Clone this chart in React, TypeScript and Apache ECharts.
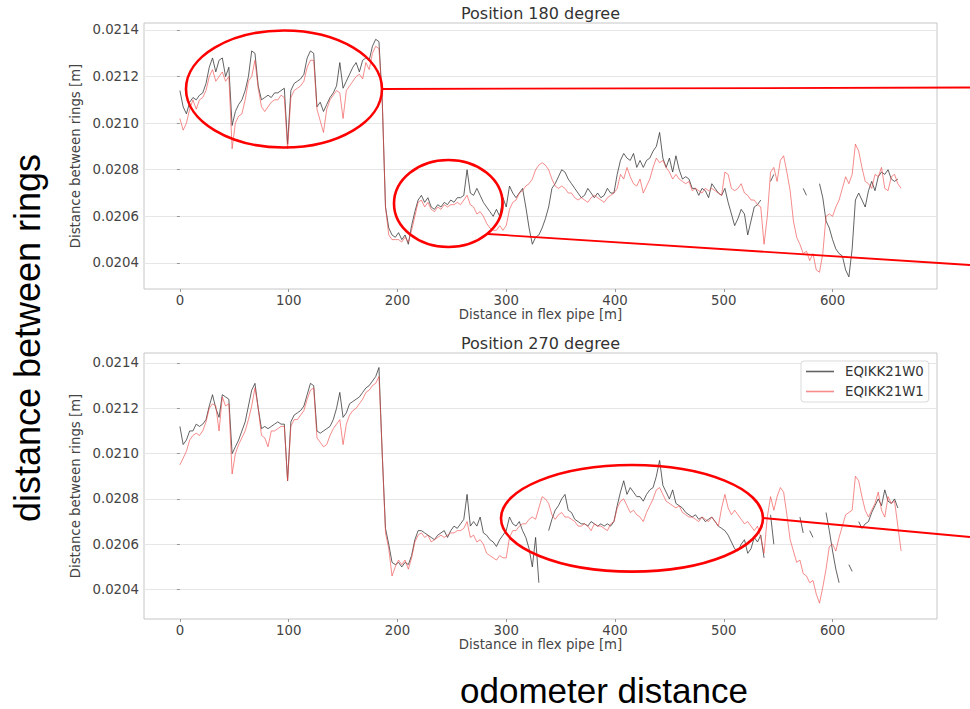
import React, { useEffect, useRef } from "react";
import * as echarts from "echarts";

// Distance along the flex pipe [m] (sampling positions)
const DISTANCES: number[] = [
  0, 3, 6, 9, 12, 15, 18, 21, 24, 27, 30, 33, 36, 39, 42, 45, 48, 51, 54, 57,
  60, 63, 66, 69, 72, 75, 78, 81, 84, 87, 90, 93, 96, 99, 102, 105, 108, 111, 114, 117,
  120, 123, 126, 129, 132, 135, 138, 141, 144, 147, 150, 153, 156, 159, 162, 165, 168, 171, 174, 177,
  180, 183, 186, 189, 192, 195, 198, 201, 204, 207, 210, 213, 216, 219, 222, 225, 228, 231, 234, 237,
  240, 243, 246, 249, 252, 255, 258, 261, 264, 267, 270, 273, 276, 279, 282, 285, 288, 291, 294, 297,
  300, 303, 306, 309, 312, 315, 318, 321, 324, 327, 330, 333, 336, 339, 342, 345, 348, 351, 354, 357,
  360, 363, 366, 369, 372, 375, 378, 381, 384, 387, 390, 393, 396, 399, 402, 405, 408, 411, 414, 417,
  420, 423, 426, 429, 432, 435, 438, 441, 444, 447, 450, 453, 456, 459, 462, 465, 468, 471, 474, 477,
  480, 483, 486, 489, 492, 495, 498, 501, 504, 507, 510, 513, 516, 519, 522, 525, 528, 531, 534, 537,
  540, 543, 546, 549, 552, 555, 558, 561, 564, 567, 570, 573, 576, 579, 582, 585, 588, 591, 594, 597,
  600, 603, 606, 609, 612, 615, 618, 621, 624, 627, 630, 633, 636, 639, 642, 645, 648, 651, 654, 657,
  660, 663,
];

const SERIES_NAMES = ["EQIKK21W0", "EQIKK21W1"];
const PANEL_TITLES = ["Position 180 degree", "Position 270 degree"];
const X_TICKS = [0, 100, 200, 300, 400, 500, 600];
const Y_TICKS = [0.0204, 0.0206, 0.0208, 0.021, 0.0212, 0.0214];

// Position 180 degree
const POS180_W0: (number | null)[] = [
  0.02114, 0.02107, 0.02104, 0.02109, 0.02111, 0.0211, 0.02112, 0.02113, 0.02117, 0.02124,
  0.02128, 0.02122, 0.02127, 0.02128, 0.0212, 0.02124, 0.02099, 0.02105, 0.02108, 0.0211,
  0.02114, 0.0212, 0.02131, 0.0213, 0.02116, 0.0211, 0.02111, 0.02112, 0.02111, 0.02113,
  0.02113, 0.02114, 0.02115, 0.02091, 0.02114, 0.02117, 0.02118, 0.02119, 0.02121, 0.02128,
  0.02131, 0.0213, 0.02107, 0.02109, 0.02105, 0.02108, 0.02111, 0.02113, 0.02116, 0.02126,
  0.02115, 0.02118, 0.02121, 0.02124, 0.02126, 0.02122, 0.02127, 0.02128, 0.02127, 0.02133,
  0.02136, 0.02135, 0.0211, 0.02064, 0.02055, 0.02052, 0.02051, 0.02053, 0.0205, 0.02052,
  0.02048, 0.02056, 0.02062, 0.02067, 0.02069, 0.02066, 0.02068, 0.02064, 0.02063, 0.02065,
  0.02064, 0.02066, 0.02065, 0.02067, 0.02066, 0.02068, 0.02068, 0.02069, 0.0208, 0.0207,
  0.02069, 0.02072, 0.02069, 0.02066, 0.02064, 0.02062, 0.0206, 0.02063, 0.0206, 0.02068,
  0.02064, 0.02073, 0.0207, 0.02068, 0.0207, 0.02072, 0.02064, 0.02055, 0.02048, 0.02051,
  0.02052, 0.02055, 0.02059, 0.02064, 0.02072, 0.02074, 0.02077, 0.0208, 0.02079, 0.02076,
  0.02074, 0.02072, 0.0207, 0.02068, 0.02069, 0.02072, 0.0207, 0.02068, 0.0207, 0.02068,
  0.02069, 0.02072, 0.0207, 0.0207, 0.02078, 0.02084, 0.02087, 0.02085, 0.02084, 0.02087,
  0.02081, 0.02084, 0.02081, 0.02084, 0.02085, 0.02088, 0.0209, 0.02096, 0.02085, 0.02081,
  0.02085, 0.02079, 0.02086, 0.0208, 0.02076, 0.02077, 0.02076, 0.02072, 0.02072, 0.02069,
  0.02072, 0.02071, 0.02068, 0.02074, 0.02072, 0.0207, 0.02069, 0.02072, 0.02066, 0.02061,
  0.02056, 0.02059, 0.02063, 0.02061, 0.02052, 0.02058, 0.02064, 0.02065, 0.02067, null,
  null, 0.02075, 0.02078, null, null, null, null, null, null, null,
  null, 0.02072, 0.02069, null, null, null, 0.02074, 0.02068, 0.02058, 0.02055,
  0.0205, 0.02046, 0.02044, 0.02043, 0.02037, 0.02034, 0.02046, 0.02067, 0.0207, 0.02067,
  0.02064, 0.02071, 0.02075, 0.02071, 0.02077, 0.02079, 0.02078, 0.0208, 0.02076, 0.02075,
  0.02076, null,
];

const POS180_W1: (number | null)[] = [
  0.02102, 0.02097, 0.021, 0.02106, 0.0211, 0.02106, 0.0211, 0.02111, 0.02114, 0.0212,
  0.02123, 0.02118, 0.0212, 0.02122, 0.02118, 0.0212, 0.02089, 0.021, 0.02103, 0.02104,
  0.0211, 0.02118, 0.0212, 0.02127, 0.02115, 0.02107, 0.02105, 0.02107, 0.02109, 0.0211,
  0.0211, 0.02112, 0.02111, 0.02089, 0.02111, 0.02114, 0.02115, 0.02116, 0.02118, 0.02124,
  0.02127, 0.02127, 0.02106, 0.02101, 0.02096, 0.02106, 0.0211, 0.02112, 0.02114, 0.02113,
  0.02102, 0.02114, 0.02116, 0.02118, 0.0212, 0.02121, 0.02119, 0.02126, 0.02123, 0.0213,
  0.02133, 0.02132, 0.0211, 0.02064, 0.02052, 0.0205, 0.0205, 0.0205, 0.02049, 0.02051,
  0.02049, 0.02054, 0.0206, 0.02066, 0.02067, 0.02064, 0.02066, 0.02063, 0.02062, 0.02064,
  0.02063, 0.02065, 0.02064, 0.02065, 0.02065, 0.02066, 0.02065, 0.02067, 0.02069, 0.02065,
  0.02064, 0.02061, 0.02062, 0.0206, 0.02057, 0.02055, 0.02054, 0.02054, 0.02056, 0.02054,
  0.02056, 0.02063, 0.02066, 0.02067, 0.0207, 0.02071, 0.02073, 0.02074, 0.02076, 0.0208,
  0.02082, 0.02083, 0.02082, 0.0208, 0.02076, 0.02073, 0.02072, 0.02073, 0.02072, 0.0207,
  0.0207, 0.02068, 0.02067, 0.02068, 0.02067, 0.02066, 0.02068, 0.02069, 0.02068, 0.02067,
  0.02066, 0.02068, 0.02069, 0.0207, 0.02072, 0.02078, 0.02076, 0.02081, 0.02077, 0.02074,
  0.02073, 0.02076, 0.0207, 0.02073, 0.02076, 0.02081, 0.02085, 0.02083, 0.02084, 0.02081,
  0.02079, 0.02076, 0.02078, 0.02076, 0.02075, 0.02074, 0.02075, 0.02071, 0.02072, 0.02071,
  0.0207, 0.02072, 0.02071, 0.02072, 0.02071, 0.0207, 0.02069, 0.02079, 0.02078, 0.02072,
  0.02071, 0.02072, 0.02074, 0.0207, 0.02069, 0.02067, 0.02067, 0.02065, 0.02064, 0.02048,
  0.0206, 0.02079, 0.02081, 0.02075, 0.02084, 0.02086, 0.02079, 0.02071, 0.02058, 0.02051,
  0.02048, 0.02044, 0.02045, 0.02041, 0.02044, 0.02037, 0.02036, 0.02044, 0.0206, 0.02061,
  0.0206, 0.02064, 0.02067, 0.02072, 0.02077, 0.02074, 0.02078, 0.02091, 0.02088, 0.02081,
  0.02075, 0.02074, 0.02072, 0.02078, 0.02077, 0.02081, 0.02072, 0.02071, 0.02077, 0.02078,
  0.02074, 0.02072,
];

// Position 270 degree
const POS270_W0: (number | null)[] = [
  0.02112, 0.02104, 0.02106, 0.0211, 0.0211, 0.02113, 0.02112, 0.02113, 0.02115, 0.02121,
  0.02126, 0.0212, 0.02116, 0.02126, 0.02125, 0.02124, 0.021, 0.02103, 0.02106, 0.0211,
  0.02114, 0.02121, 0.02128, 0.02131, 0.0212, 0.02111, 0.02112, 0.02111, 0.02112, 0.02113,
  0.02114, 0.02113, 0.02113, 0.02088, 0.02114, 0.02117, 0.02118, 0.02119, 0.02121, 0.02126,
  0.02131, 0.0213, 0.0211, 0.02109, 0.0211, 0.02111, 0.02112, 0.02115, 0.0212, 0.02127,
  0.02116, 0.02118, 0.02122, 0.02123, 0.02124, 0.02125, 0.02127, 0.02129, 0.0213, 0.02132,
  0.02134, 0.02138, 0.021, 0.02067, 0.0206, 0.02052, 0.02051, 0.02052, 0.0205, 0.02052,
  0.02051, 0.02055, 0.02062, 0.02066, 0.02066, 0.02065, 0.02064, 0.02063, 0.02062, 0.02064,
  0.02065, 0.02066, 0.02063, 0.02066, 0.02068, 0.02067, 0.02069, 0.02071, 0.02082, 0.02068,
  0.0207, 0.02068, 0.02072, 0.02065, 0.02064, 0.02062, 0.02061, 0.02059, 0.02062, 0.02064,
  0.02066, 0.02072, 0.02069, 0.02068, 0.0207, 0.02066, 0.02063, 0.02058, 0.0205, 0.02063,
  0.02043, null, null, 0.02066, 0.02071, 0.02075, 0.02077, 0.0208, 0.02082, 0.02075,
  0.02074, 0.02071, 0.0207, 0.02069, 0.02069, 0.02068, 0.0207, 0.02069, 0.02068, 0.02069,
  0.02068, 0.02069, 0.02068, 0.0207, 0.02077, 0.02083, 0.02088, 0.02082, 0.02085, 0.02083,
  0.02081, 0.02081, 0.02079, 0.02082, 0.02084, 0.02085, 0.0209, 0.02097, 0.02086, 0.02083,
  0.0208, 0.02084, 0.02078, 0.02077, 0.02076, 0.02074, 0.02073, 0.02072, 0.02073, 0.02071,
  0.02072, 0.0207, 0.02071, 0.02072, 0.0207, 0.02068, 0.02067, 0.02066, 0.02064, 0.02061,
  0.02058, 0.02057, 0.0206, 0.02062, 0.02056, 0.02058, 0.02063, 0.02061, 0.02064, 0.02054,
  null, 0.02073, 0.0206, null, null, null, null, null, null, null,
  0.02072, 0.02065, null, 0.02066, 0.02063, null, null, null, 0.02074, 0.02066,
  0.02057, 0.02049, 0.02043, null, null, 0.02051, 0.02048, null, 0.0207, 0.02067,
  0.02069, 0.0207, 0.02074, 0.02077, 0.0208, 0.02077, 0.02084, 0.02079, 0.02078, 0.0208,
  0.02076, null,
];

const POS270_W1: (number | null)[] = [
  0.02095, 0.02098, 0.02101, 0.02106, 0.02108, 0.02109, 0.02108, 0.0211, 0.02114, 0.0212,
  0.02122, 0.02121, 0.0211, 0.02125, 0.02121, 0.02122, 0.02091, 0.021, 0.02104, 0.02107,
  0.0211, 0.02115, 0.02121, 0.02129, 0.0212, 0.02108, 0.02107, 0.02103, 0.0211, 0.0211,
  0.02111, 0.02112, 0.02112, 0.02088, 0.02112, 0.02115, 0.02115, 0.02117, 0.02119, 0.02124,
  0.02128, 0.02129, 0.02107, 0.02105, 0.02103, 0.02104, 0.02108, 0.02111, 0.02113, 0.02115,
  0.02104, 0.02113, 0.02117, 0.02119, 0.0212, 0.02122, 0.02124, 0.02127, 0.02128, 0.0213,
  0.02131, 0.02134, 0.021, 0.02065, 0.02058, 0.02046, 0.0205, 0.02053, 0.02051, 0.02053,
  0.02049, 0.02054, 0.02061, 0.02064, 0.02065, 0.02063, 0.02064, 0.02061, 0.02062, 0.02063,
  0.02064, 0.02063, 0.02064, 0.02065, 0.02065, 0.02066, 0.02066, 0.02067, 0.0207, 0.02063,
  0.02064, 0.02061, 0.02062, 0.0206, 0.02056, 0.02055, 0.02054, 0.02053, 0.02055, 0.02054,
  0.02054, 0.02063, 0.02066, 0.02066, 0.02068, 0.02069, 0.02069, 0.02071, 0.02072, 0.02071,
  0.02076, 0.02081, 0.0208, 0.02078, 0.02073, 0.02071, 0.02073, 0.02074, 0.02072, 0.02072,
  0.02071, 0.0207, 0.02068, 0.02068, 0.02069, 0.02068, 0.02066, 0.02069, 0.02068, 0.02068,
  0.02067, 0.02066, 0.02069, 0.0207, 0.02076, 0.02079, 0.0208, 0.02077, 0.02074, 0.02075,
  0.02073, 0.02072, 0.0207, 0.02074, 0.02077, 0.0208, 0.02084, 0.02085, 0.02082, 0.02079,
  0.02078, 0.02077, 0.02076, 0.02077, 0.02074, 0.02073, 0.02072, 0.02072, 0.02071, 0.0207,
  0.02072, 0.02071, 0.0207, 0.02072, 0.0207, 0.02068, 0.02076, 0.02082, 0.02076, 0.02073,
  0.02075, 0.02073, 0.02071, 0.02069, 0.0207, 0.02068, 0.02066, 0.02068, 0.02063, 0.02056,
  0.02072, 0.02081, 0.02075, 0.02081, 0.02085, 0.02083, 0.02073, 0.02062, 0.02057, 0.02052,
  0.02053, 0.02047, 0.02046, 0.02043, 0.02044, 0.02038, 0.02034, 0.02041, 0.02049, 0.02059,
  0.0206, 0.02057, 0.02063, 0.02068, 0.02073, 0.02074, 0.02075, 0.0209, 0.02088, 0.02081,
  0.02075, 0.02072, 0.02075, 0.02078, 0.02083, 0.02075, 0.02072, 0.02081, 0.02078, 0.02079,
  0.02068, 0.02057,
];

const FONT = '"DejaVu Sans", sans-serif';
const COLOR_W0 = "rgba(55,55,55,0.78)";
const COLOR_W1 = "rgba(240,70,70,0.62)";

function toPairs(vals: (number | null)[]) {
  return DISTANCES.map((d, i) => [d, vals[i] == null ? "-" : vals[i]]);
}

export default function App() {
  const ref = useRef<HTMLDivElement>(null);

  useEffect(() => {
    if (!ref.current) return;
    const chart = echarts.init(ref.current, null, { renderer: "svg" });

    const grids = [
      { left: 144, top: 23, width: 793, height: 266 },
      { left: 144, top: 353, width: 793, height: 266 },
    ];
    const yRanges = [
      [0.020288, 0.02143],
      [0.02027, 0.021444],
    ];

    const seriesData = [
      [POS180_W0, POS180_W1],
      [POS270_W0, POS270_W1],
    ];

    const series: any[] = [];
    seriesData.forEach((pair, gi) => {
      pair.forEach((vals, si) => {
        const c = si === 0 ? COLOR_W0 : COLOR_W1;
        series.push({
          type: "line",
          name: SERIES_NAMES[si],
          xAxisIndex: gi,
          yAxisIndex: gi,
          data: toPairs(vals),
          showSymbol: false,
          symbol: "none",
          connectNulls: false,
          color: c,
          itemStyle: { color: c },
          lineStyle: { color: c, width: 1 },
          emphasis: { disabled: true },
          silent: true,
          z: 2 + si,
        });
      });
    });

    const annotationRed = "#ff0000";

    const option: any = {
      animation: false,
      backgroundColor: "#ffffff",
      textStyle: { fontFamily: FONT },
      grid: grids.map((g) => ({
        ...g,
        show: true,
        borderColor: "#c6c6c6",
        borderWidth: 1,
        backgroundColor: "transparent",
        containLabel: false,
      })),
      xAxis: grids.map((_, i) => ({
        type: "value",
        gridIndex: i,
        min: -33,
        max: 696,
        axisLine: { show: false },
        axisTick: {
          show: true,
          length: 3,
          lineStyle: { color: "#9a9a9a" },
          customValues: X_TICKS,
        },
        axisLabel: {
          customValues: X_TICKS,
          margin: 5,
          fontSize: 13.3,
          color: "#444",
          fontFamily: FONT,
        },
        splitLine: { show: false },
        name: "Distance in flex pipe [m]",
        nameLocation: "middle",
        nameGap: 17,
        nameTextStyle: { fontSize: 13.3, color: "#444", fontFamily: FONT },
      })),
      yAxis: grids.map((_, i) => ({
        type: "value",
        gridIndex: i,
        min: yRanges[i][0],
        max: yRanges[i][1],
        axisLine: { show: false },
        axisTick: {
          show: true,
          length: 3,
          lineStyle: { color: "#9a9a9a" },
          customValues: Y_TICKS,
        },
        axisLabel: {
          customValues: Y_TICKS,
          margin: 5,
          fontSize: 13.3,
          color: "#444",
          fontFamily: FONT,
          formatter: (v: number) => v.toFixed(4),
        },
        splitLine: { show: true, lineStyle: { color: "#e6e6e6", width: 1 } },
        name: "Distance between rings [m]",
        nameLocation: "middle",
        nameGap: 49,
        nameTextStyle: { fontSize: 13.3, color: "#444", fontFamily: FONT },
      })),
      legend: {
        data: SERIES_NAMES,
        orient: "vertical",
        left: 801,
        top: 361,
        padding: [4, 5, 4, 5],
        itemGap: 7,
        itemWidth: 28,
        itemHeight: 1.6,
        icon: "rect",
        selectedMode: false,
        borderColor: "#dadada",
        borderWidth: 1,
        borderRadius: 3,
        backgroundColor: "rgba(255,255,255,0.85)",
        textStyle: {
          fontSize: 13.3,
          color: "#333",
          fontFamily: FONT,
          padding: [0, 0, 0, 6],
        },
      },
      series,
      graphic: [
        {
          type: "text",
          x: 540.5,
          y: 13,
          z: 50,
          style: {
            text: PANEL_TITLES[0],
            font: `16px ${FONT}`,
            fill: "#333",
            align: "center",
            textAlign: "center",
            verticalAlign: "middle",
            textVerticalAlign: "middle",
          },
        },
        {
          type: "text",
          x: 540.5,
          y: 343,
          z: 50,
          style: {
            text: PANEL_TITLES[1],
            font: `16px ${FONT}`,
            fill: "#333",
            align: "center",
            textAlign: "center",
            verticalAlign: "middle",
            textVerticalAlign: "middle",
          },
        },
        {
          type: "text",
          x: 27,
          y: 338,
          rotation: Math.PI / 2,
          z: 50,
          style: {
            text: "distance between rings",
            font: '36px "Liberation Sans", Arial, sans-serif',
            fill: "#000",
            align: "center",
            textAlign: "center",
            verticalAlign: "middle",
            textVerticalAlign: "middle",
          },
        },
        {
          type: "text",
          x: 604,
          y: 690,
          z: 50,
          style: {
            text: "odometer distance",
            font: '35px "Liberation Sans", Arial, sans-serif',
            fill: "#000",
            align: "center",
            textAlign: "center",
            verticalAlign: "middle",
            textVerticalAlign: "middle",
          },
        },
        {
          type: "ellipse",
          z: 100,
          shape: { cx: 284, cy: 89, rx: 98, ry: 58.5 },
          style: { fill: "none", stroke: annotationRed, lineWidth: 2.6 },
        },
        {
          type: "line",
          z: 100,
          shape: { x1: 382, y1: 89, x2: 970, y2: 87.5 },
          style: { stroke: annotationRed, lineWidth: 1.8 },
        },
        {
          type: "ellipse",
          z: 100,
          shape: { cx: 448.3, cy: 203.5, rx: 54.3, ry: 43.5 },
          style: { fill: "none", stroke: annotationRed, lineWidth: 2.6 },
        },
        {
          type: "line",
          z: 100,
          shape: { x1: 488, y1: 234, x2: 970, y2: 265 },
          style: { stroke: annotationRed, lineWidth: 1.8 },
        },
        {
          type: "ellipse",
          z: 100,
          shape: { cx: 632, cy: 518.3, rx: 131, ry: 53.3 },
          style: { fill: "none", stroke: annotationRed, lineWidth: 2.6 },
        },
        {
          type: "line",
          z: 100,
          shape: { x1: 763, y1: 518, x2: 970, y2: 537 },
          style: { stroke: annotationRed, lineWidth: 1.8 },
        },
      ],
    };

    chart.setOption(option);
    return () => {
      chart.dispose();
    };
  }, []);

  return (
    <div
      ref={ref}
      style={{
        position: "fixed",
        left: 0,
        top: 0,
        width: 970,
        height: 709,
        background: "#fff",
      }}
    />
  );
}
